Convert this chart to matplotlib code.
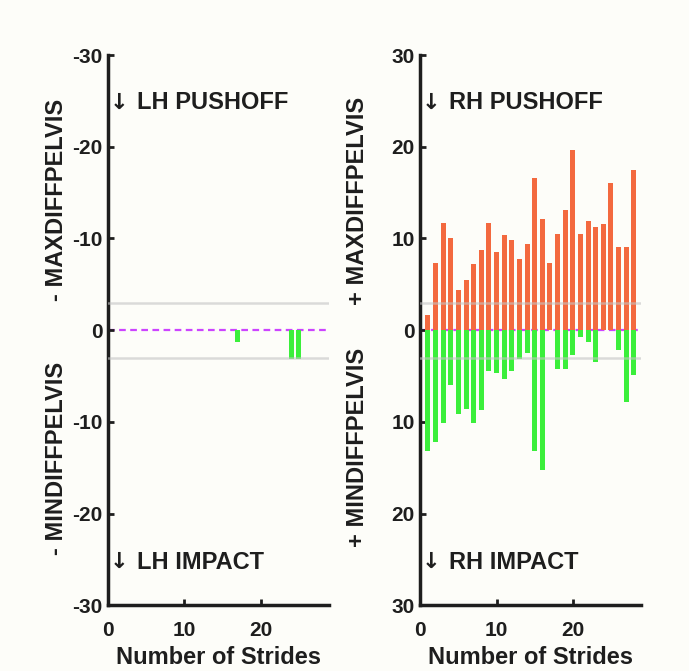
import numpy as np
import matplotlib
matplotlib.use("Agg")
import matplotlib.pyplot as plt

plt.rcParams["font.family"] = ["Liberation Sans", "DejaVu Sans"]
plt.rcParams["font.weight"] = "bold"

# ── data ─────────────────────────────────────────────────────────────────────
strides = np.arange(1, 29)

lh_max = np.zeros(28)
lh_min = np.zeros(28)
lh_min[16] = 1.3     # stride 17
lh_min[23] = 3.1     # stride 24
lh_min[24] = 3.1     # stride 25

rh_max = np.array([1.6, 7.3, 11.7, 10.1, 4.4, 5.5, 7.2, 8.7, 11.7, 8.5,
                   10.4, 9.8, 7.8, 9.4, 16.6, 12.1, 7.3, 10.5, 13.1, 19.6,
                   10.5, 11.9, 11.3, 11.6, 16.0, 9.1, 9.1, 17.5])
rh_min = np.array([13.2, 12.2, 10.1, 6.0, 9.1, 8.6, 10.1, 8.7, 4.5, 4.7,
                   5.3, 4.5, 3.2, 2.5, 13.2, 15.2, 0.0, 4.2, 4.2, 2.7,
                   0.8, 1.3, 3.5, 0.0, 0.0, 2.2, 7.8, 4.9])

threshold = 3.0
yticks = [-30, -20, -10, 0, 10, 20, 30]
lh_yticklabels = ["-30", "-20", "-10", "0", "-10", "-20", "-30"]
rh_yticklabels = ["30", "20", "10", "0", "10", "20", "30"]
xticks = [0, 10, 20]

ORANGE = "#f3693f"
GREEN = "#3bef3b"
BG = "#fdfdf9"
INK = "#1e1e1e"

fig = plt.figure(figsize=(6.89, 6.71), dpi=100, facecolor=BG)
ax_l = fig.add_axes([0.157, 0.098, 0.321, 0.820])
ax_r = fig.add_axes([0.610, 0.098, 0.321, 0.820])


def style_axis(ax, yticklabels):
    ax.set_facecolor(BG)
    ax.set_xlim(0, 29)
    ax.set_ylim(-30, 30)
    for s in ("top", "right"):
        ax.spines[s].set_visible(False)
    for s in ("left", "bottom"):
        ax.spines[s].set_linewidth(2.5)
        ax.spines[s].set_color(INK)
    ax.set_yticks(yticks)
    ax.set_yticklabels(yticklabels)
    ax.set_xticks(xticks)
    ax.tick_params(direction="in", length=4, width=2, labelsize=15,
                   colors=INK, pad=4)
    ax.tick_params(axis="x", pad=11)
    for lab in ax.get_xticklabels() + ax.get_yticklabels():
        lab.set_fontweight("bold")
    ax.set_xlabel("Number of Strides", fontsize=17, fontweight="bold",
                  labelpad=5, color=INK)
    ax.axhline(threshold, color="#c4c4c4", lw=1.8, alpha=0.6, zorder=4)
    ax.axhline(-threshold, color="#c4c4c4", lw=1.8, alpha=0.6, zorder=4)
    ax.axhline(0, color="#cc44ff", lw=1.6, ls=(0, (3, 2)), zorder=1)


def phase_label(ax, y, txt):
    # arrow drawn in DejaVu (heavier glyph), words in Liberation
    ax.text(0.2, y, "\u2193", fontsize=16, fontweight="bold", color=INK,
            family="DejaVu Sans", va="center", ha="left")
    ax.text(3.8, y, txt, fontsize=17, fontweight="bold", color=INK,
            va="center", ha="left")


# ── left hind ────────────────────────────────────────────────────────────────
style_axis(ax_l, lh_yticklabels)
ax_l.bar(strides, lh_max, width=0.65, color=ORANGE, zorder=2)
ax_l.bar(strides, -lh_min, width=0.65, color=GREEN, zorder=2)
phase_label(ax_l, 24.8, "LH PUSHOFF")
phase_label(ax_l, -25.3, "LH IMPACT")

# ── right hind ───────────────────────────────────────────────────────────────
style_axis(ax_r, rh_yticklabels)
ax_r.bar(strides, rh_max, width=0.65, color=ORANGE, zorder=2)
ax_r.bar(strides, -rh_min, width=0.65, color=GREEN, zorder=2)
phase_label(ax_r, 24.8, "RH PUSHOFF")
phase_label(ax_r, -25.3, "RH IMPACT")

# split y labels (pixel positions → figure fractions)
W, H = 689, 671
for x, y, txt in [(57, 200, "- MAXDIFFPELVIS"), (57, 458, "- MINDIFFPELVIS"),
                  (358, 201, "+ MAXDIFFPELVIS"), (358, 447, "+ MINDIFFPELVIS")]:
    fig.text(x / W, 1 - y / H, txt, rotation=90, fontsize=17, fontweight="bold",
             ha="center", va="center", color=INK)

fig.savefig("out.png", dpi=100, facecolor=BG)
